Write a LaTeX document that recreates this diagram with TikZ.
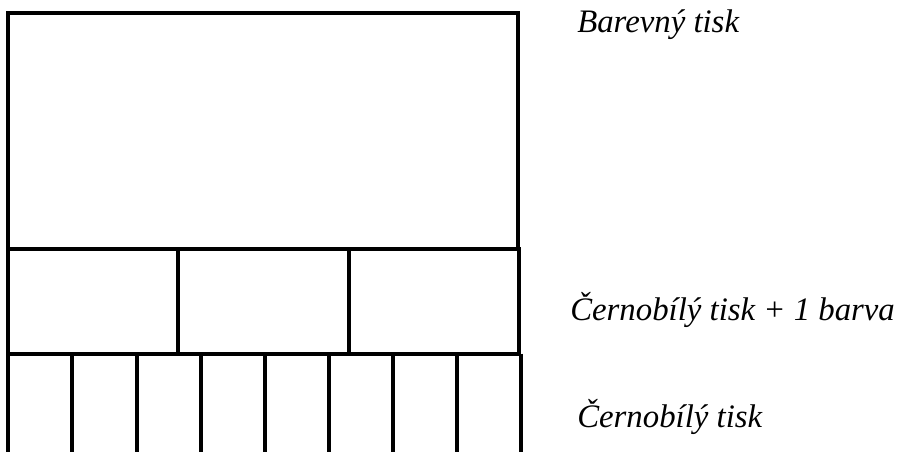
\documentclass[tikz,border=0pt]{standalone}
\usepackage{fontspec}
\setmainfont{Liberation Serif}[ItalicFont=Liberation Serif Italic]
\begin{document}
\begin{tikzpicture}[x=0.75pt,y=-0.75pt,
  frame/.style={draw=black,line width=3pt},
  label/.style={anchor=base west,inner sep=0pt,font=\fontsize{24.6}{28}\selectfont\itshape}]
\useasboundingbox (0,0) rectangle (901,451);
% top block
\draw[frame] (8,13) rectangle (518,248.5);
% middle block
\draw[frame] (8,248.5) rectangle (519,353.5);
\draw[frame] (178,248.5) -- (178,353.5);
\draw[frame] (349,248.5) -- (349,353.5);
% bottom strips
\foreach \x in {8,72,137,201,265,329,393,457,521}
  \draw[frame] (\x,353.5) -- (\x,452);
\node[label] (barevny) at (577,32) {Barevný tisk};
\node[label] (cbbarva) at (570,320) {Černobílý tisk + 1 barva};
\node[label] (cb) at (577,427) {Černobílý tisk};
\end{tikzpicture}
\end{document}
